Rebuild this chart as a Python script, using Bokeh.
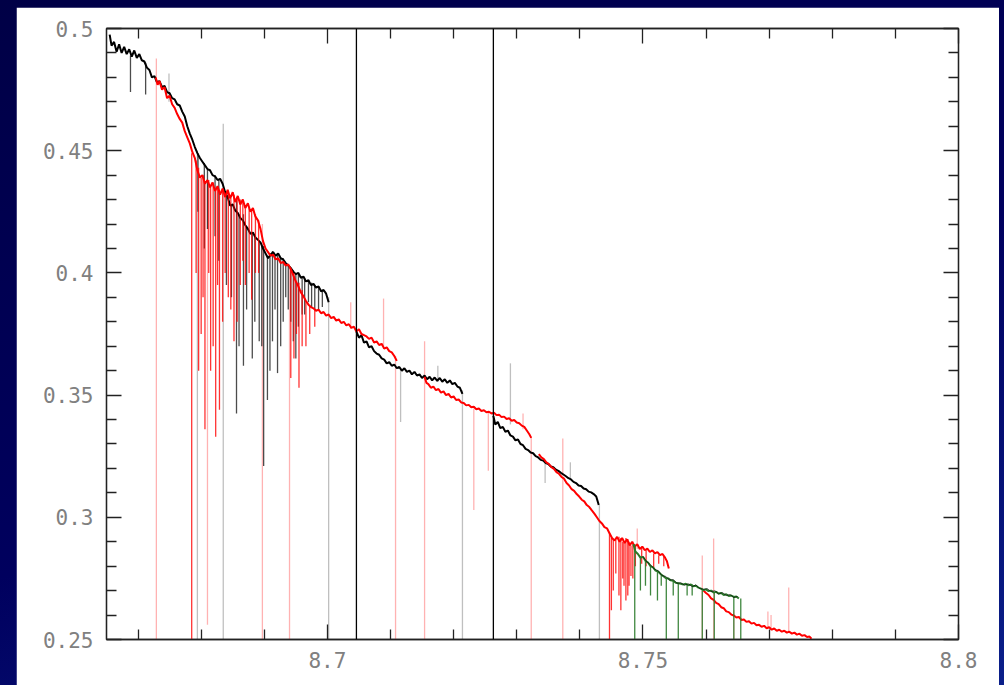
from bokeh.plotting import figure
from bokeh.models import (LinearAxis, FixedTicker, Span, Range1d, GlobalInlineStyleSheet)
from bokeh.embed import file_html
from bokeh.resources import INLINE

# ---------------- data ----------------
x_range = (8.665, 8.8)
y_range = (0.25, 0.5)
x_ticks = [8.7, 8.75, 8.8]
x_tick_labels = ["8.7", "8.75", "8.8"]
x_minor = [8.67, 8.68, 8.69, 8.71, 8.72, 8.73, 8.74, 8.76, 8.77, 8.78, 8.79]
y_ticks = [0.25, 0.3, 0.35, 0.4, 0.45, 0.5]
y_tick_labels = ["0.25", "0.3", "0.35", "0.4", "0.45", "0.5"]
y_minor = [0.26, 0.27, 0.28, 0.29, 0.31, 0.32, 0.33, 0.34, 0.36, 0.37, 0.38, 0.39,
           0.41, 0.42, 0.43, 0.44, 0.46, 0.47, 0.48, 0.49]
marker_lines = [8.7046, 8.7263]

# black order, segment 1
b1_x = [8.6655, 8.6658, 8.6662, 8.6666, 8.6670, 8.6674, 8.6678, 8.6682, 8.6686, 8.6690,
        8.6694, 8.6698, 8.6702, 8.6706, 8.6710, 8.6714, 8.6718, 8.6722, 8.6726, 8.6730,
        8.6734, 8.6738, 8.6742, 8.6746, 8.6750, 8.6754, 8.6758, 8.6762, 8.6766, 8.6770,
        8.6774, 8.6778, 8.6782, 8.6786, 8.6790, 8.6794, 8.6798, 8.6802, 8.6806, 8.6810,
        8.6814, 8.6818, 8.6822, 8.6826, 8.6830, 8.6834, 8.6838, 8.6842, 8.6846, 8.6850,
        8.6854, 8.6858, 8.6862, 8.6866, 8.6870, 8.6874, 8.6878, 8.6882, 8.6886, 8.6890,
        8.6894, 8.6898, 8.6902, 8.6906, 8.6910, 8.6914, 8.6918, 8.6922, 8.6926, 8.6930,
        8.6934, 8.6938, 8.6942, 8.6946, 8.6950, 8.6954, 8.6958, 8.6962, 8.6966, 8.6970,
        8.6974, 8.6978, 8.6982, 8.6986, 8.6990, 8.6994, 8.6998, 8.7002]
b1_y = [0.4975, 0.4930, 0.4945, 0.4905, 0.4935, 0.4900, 0.4925, 0.4895, 0.4915, 0.4885,
        0.4910, 0.4880, 0.4895, 0.4870, 0.4865, 0.4840, 0.4830, 0.4800, 0.4805, 0.4780,
        0.4785, 0.4760, 0.4765, 0.4740, 0.4735, 0.4715, 0.4710, 0.4690, 0.4685, 0.4660,
        0.4640, 0.4600, 0.4570, 0.4545, 0.4515, 0.4490, 0.4470, 0.4455, 0.4440, 0.4425,
        0.4420, 0.4400, 0.4395, 0.4380, 0.4385, 0.4365, 0.4330, 0.4310, 0.4275, 0.4280,
        0.4255, 0.4245, 0.4225, 0.4215, 0.4195, 0.4180, 0.4160, 0.4165, 0.4145, 0.4135,
        0.4125, 0.4100, 0.4080, 0.4060, 0.4075, 0.4085, 0.4070, 0.4080, 0.4060, 0.4055,
        0.4040, 0.4030, 0.4020, 0.4005, 0.3995, 0.4000, 0.3980, 0.3985, 0.3965, 0.3970,
        0.3950, 0.3955, 0.3940, 0.3945, 0.3925, 0.3930, 0.3915, 0.3880]

# black order, segment 2
b2_x = [8.7046, 8.7050, 8.7054, 8.7058, 8.7062, 8.7066, 8.7070, 8.7074, 8.7078, 8.7082,
        8.7086, 8.7090, 8.7094, 8.7098, 8.7102, 8.7106, 8.7110, 8.7114, 8.7118, 8.7122,
        8.7126, 8.7130, 8.7134, 8.7138, 8.7142, 8.7146, 8.7150, 8.7154, 8.7158, 8.7162,
        8.7166, 8.7170, 8.7174, 8.7178, 8.7182, 8.7186, 8.7190, 8.7194, 8.7198, 8.7202,
        8.7206, 8.7210, 8.7214]
b2_y = [0.3760, 0.3735, 0.3745, 0.3715, 0.3720, 0.3695, 0.3700, 0.3680, 0.3670, 0.3665,
        0.3650, 0.3645, 0.3630, 0.3635, 0.3620, 0.3625, 0.3610, 0.3615, 0.3600, 0.3610,
        0.3595, 0.3600, 0.3585, 0.3595, 0.3580, 0.3585, 0.3570, 0.3580, 0.3565, 0.3575,
        0.3560, 0.3572, 0.3558, 0.3570, 0.3555, 0.3565, 0.3550, 0.3560, 0.3545, 0.3550,
        0.3535, 0.3530, 0.3505]

# black order, segment 3
b3_x = [8.7263, 8.7266, 8.7270, 8.7274, 8.7278, 8.7282, 8.7286, 8.7290, 8.7294, 8.7298,
        8.7302, 8.7306, 8.7310, 8.7314, 8.7318, 8.7322, 8.7326, 8.7330, 8.7334, 8.7338,
        8.7342, 8.7346, 8.7350, 8.7354, 8.7358, 8.7362, 8.7366, 8.7370, 8.7374, 8.7378,
        8.7382, 8.7386, 8.7390, 8.7394, 8.7398, 8.7402, 8.7406, 8.7410, 8.7414, 8.7418,
        8.7422, 8.7426, 8.7430]
b3_y = [0.3415, 0.3380, 0.3390, 0.3365, 0.3370, 0.3350, 0.3355, 0.3335, 0.3330, 0.3315,
        0.3318, 0.3300, 0.3295, 0.3280, 0.3275, 0.3265, 0.3262, 0.3250, 0.3245, 0.3235,
        0.3232, 0.3222, 0.3218, 0.3208, 0.3205, 0.3195, 0.3190, 0.3182, 0.3175, 0.3168,
        0.3160, 0.3155, 0.3145, 0.3140, 0.3130, 0.3128, 0.3118, 0.3115, 0.3105, 0.3102,
        0.3095, 0.3085, 0.3050]

# black points over the green order
b4_x = [8.7500, 8.7506, 8.7512, 8.7518, 8.7524, 8.7530, 8.7536, 8.7542, 8.7548, 8.7554,
        8.7560, 8.7566, 8.7572, 8.7578, 8.7584, 8.7590, 8.7596, 8.7602, 8.7608, 8.7614,
        8.7620, 8.7626, 8.7632, 8.7638, 8.7644, 8.7650]
b4_y = [0.2840, 0.2818, 0.2806, 0.2788, 0.2782, 0.2762, 0.2758, 0.2744, 0.2745, 0.2730,
        0.2732, 0.2722, 0.2728, 0.2716, 0.2724, 0.2708, 0.2706, 0.2708, 0.2696, 0.2700,
        0.2686, 0.2692, 0.2680, 0.2684, 0.2672, 0.2676]

# red order, segment 1
r1_x = [8.6728, 8.6731, 8.6734, 8.6738, 8.6742, 8.6746, 8.6750, 8.6754, 8.6758, 8.6762,
        8.6766, 8.6770, 8.6774, 8.6778, 8.6782, 8.6786, 8.6790, 8.6794, 8.6798, 8.6802,
        8.6806, 8.6810, 8.6814, 8.6818, 8.6822, 8.6826, 8.6830, 8.6834, 8.6838, 8.6842,
        8.6846, 8.6850, 8.6854, 8.6858, 8.6862, 8.6866, 8.6870, 8.6874, 8.6878, 8.6882,
        8.6886, 8.6890, 8.6894, 8.6898, 8.6902, 8.6906, 8.6910, 8.6914, 8.6918, 8.6922,
        8.6926, 8.6930, 8.6934, 8.6938, 8.6942, 8.6946, 8.6950, 8.6954, 8.6958, 8.6962,
        8.6966, 8.6970, 8.6974, 8.6978, 8.6982, 8.6986, 8.6990, 8.6994, 8.6998, 8.7002,
        8.7006, 8.7010, 8.7014, 8.7018, 8.7022, 8.7026, 8.7030, 8.7034, 8.7038, 8.7042,
        8.7046, 8.7050, 8.7054, 8.7058, 8.7062, 8.7066, 8.7070, 8.7074, 8.7078, 8.7082,
        8.7086, 8.7090, 8.7094, 8.7098, 8.7102, 8.7106, 8.7110]
r1_y = [0.4800, 0.4770, 0.4785, 0.4750, 0.4760, 0.4715, 0.4725, 0.4690, 0.4675, 0.4650,
        0.4630, 0.4615, 0.4580, 0.4555, 0.4530, 0.4495, 0.4470, 0.4420, 0.4390, 0.4400,
        0.4365, 0.4380, 0.4350, 0.4370, 0.4335, 0.4355, 0.4320, 0.4345, 0.4310, 0.4340,
        0.4305, 0.4330, 0.4290, 0.4315, 0.4280, 0.4300, 0.4265, 0.4285, 0.4250, 0.4265,
        0.4230, 0.4215, 0.4180, 0.4130, 0.4100, 0.4085, 0.4070, 0.4075, 0.4055, 0.4060,
        0.4040, 0.4045, 0.4030, 0.4035, 0.4015, 0.3990, 0.3965, 0.3945, 0.3920, 0.3905,
        0.3885, 0.3870, 0.3860, 0.3855, 0.3845, 0.3850, 0.3835, 0.3840, 0.3825, 0.3830,
        0.3815, 0.3820, 0.3805, 0.3810, 0.3795, 0.3800, 0.3785, 0.3790, 0.3775, 0.3780,
        0.3760, 0.3770, 0.3750, 0.3745, 0.3740, 0.3730, 0.3735, 0.3715, 0.3720, 0.3705,
        0.3710, 0.3690, 0.3695, 0.3680, 0.3675, 0.3660, 0.3640]

# red order, segment 2
r2_x = [8.7154, 8.7157, 8.7160, 8.7164, 8.7168, 8.7172, 8.7176, 8.7180, 8.7184, 8.7188,
        8.7192, 8.7196, 8.7200, 8.7204, 8.7208, 8.7212, 8.7216, 8.7220, 8.7224, 8.7228,
        8.7232, 8.7236, 8.7240, 8.7244, 8.7248, 8.7252, 8.7256, 8.7260, 8.7264, 8.7268,
        8.7272, 8.7276, 8.7280, 8.7284, 8.7288, 8.7292, 8.7296, 8.7300, 8.7304, 8.7308,
        8.7312, 8.7316, 8.7320, 8.7323]
r2_y = [0.3575, 0.3550, 0.3545, 0.3530, 0.3535, 0.3520, 0.3525, 0.3510, 0.3515, 0.3500,
        0.3505, 0.3490, 0.3495, 0.3480, 0.3482, 0.3470, 0.3468, 0.3458, 0.3460, 0.3450,
        0.3452, 0.3442, 0.3445, 0.3435, 0.3438, 0.3430, 0.3432, 0.3425, 0.3428, 0.3418,
        0.3420, 0.3410, 0.3412, 0.3402, 0.3405, 0.3395, 0.3398, 0.3388, 0.3385, 0.3375,
        0.3370, 0.3355, 0.3340, 0.3325]

# red order, segment 3
r3_x = [8.7335, 8.7339, 8.7343, 8.7347, 8.7351, 8.7355, 8.7359, 8.7363, 8.7367, 8.7371,
        8.7375, 8.7379, 8.7383, 8.7387, 8.7391, 8.7395, 8.7399, 8.7403, 8.7407, 8.7411,
        8.7415, 8.7419, 8.7423, 8.7427, 8.7431, 8.7435, 8.7439, 8.7443, 8.7447, 8.7451,
        8.7455, 8.7459, 8.7463, 8.7467, 8.7471, 8.7475, 8.7479, 8.7483, 8.7487, 8.7491,
        8.7495, 8.7499, 8.7503, 8.7507, 8.7511, 8.7515, 8.7519, 8.7523, 8.7527, 8.7531,
        8.7535, 8.7538, 8.7541]
r3_y = [0.3258, 0.3245, 0.3238, 0.3225, 0.3218, 0.3205, 0.3198, 0.3185, 0.3178, 0.3165,
        0.3158, 0.3140, 0.3130, 0.3115, 0.3108, 0.3095, 0.3085, 0.3072, 0.3065, 0.3050,
        0.3042, 0.3028, 0.3015, 0.3000, 0.2985, 0.2975, 0.2960, 0.2955, 0.2935, 0.2915,
        0.2905, 0.2920, 0.2900, 0.2915, 0.2895, 0.2910, 0.2885, 0.2900, 0.2880, 0.2890,
        0.2870, 0.2880, 0.2865, 0.2872, 0.2858, 0.2865, 0.2852, 0.2858, 0.2845, 0.2850,
        0.2835, 0.2820, 0.2790]

# red order, segment 4
r4_x = [8.7596, 8.7600, 8.7604, 8.7608, 8.7612, 8.7616, 8.7620, 8.7624, 8.7628, 8.7632,
        8.7636, 8.7640, 8.7644, 8.7648, 8.7652, 8.7656, 8.7660, 8.7664, 8.7668, 8.7672,
        8.7676, 8.7680, 8.7684, 8.7688, 8.7692, 8.7696, 8.7700, 8.7704, 8.7708, 8.7712,
        8.7716, 8.7720, 8.7724, 8.7728, 8.7732, 8.7736, 8.7740, 8.7744, 8.7748, 8.7752,
        8.7756, 8.7760, 8.7764, 8.7767]
r4_y = [0.2700, 0.2690, 0.2682, 0.2668, 0.2662, 0.2650, 0.2645, 0.2632, 0.2628, 0.2615,
        0.2612, 0.2602, 0.2598, 0.2590, 0.2592, 0.2580, 0.2582, 0.2572, 0.2575, 0.2565,
        0.2568, 0.2558, 0.2560, 0.2552, 0.2556, 0.2546, 0.2550, 0.2540, 0.2545, 0.2536,
        0.2540, 0.2532, 0.2536, 0.2528, 0.2532, 0.2524, 0.2528, 0.2520, 0.2524, 0.2515,
        0.2518, 0.2510, 0.2512, 0.2503]

# green order
g_x = [8.7485, 8.7488, 8.7492, 8.7496, 8.7500, 8.7504, 8.7508, 8.7512, 8.7516, 8.7520,
       8.7524, 8.7528, 8.7532, 8.7536, 8.7540, 8.7544, 8.7548, 8.7552, 8.7556, 8.7560,
       8.7564, 8.7568, 8.7572, 8.7576, 8.7580, 8.7584, 8.7588, 8.7592, 8.7596, 8.7600,
       8.7604, 8.7608, 8.7612, 8.7616, 8.7620, 8.7624, 8.7628, 8.7632, 8.7636, 8.7640,
       8.7644, 8.7648, 8.7652]
g_y = [0.2890, 0.2860, 0.2850, 0.2835, 0.2838, 0.2822, 0.2815, 0.2800, 0.2795, 0.2782,
       0.2778, 0.2768, 0.2760, 0.2752, 0.2750, 0.2742, 0.2740, 0.2732, 0.2730, 0.2728,
       0.2725, 0.2728, 0.2722, 0.2725, 0.2718, 0.2720, 0.2712, 0.2708, 0.2702, 0.2705,
       0.2698, 0.2700, 0.2692, 0.2695, 0.2688, 0.2690, 0.2682, 0.2685, 0.2678, 0.2680,
       0.2674, 0.2676, 0.2668]

# absorption dips (x, top, bottom)
black_dip_x = [8.6688, 8.6712, 8.6805, 8.6822, 8.6856, 8.6867, 8.6881, 8.6892, 8.6899, 8.6905,
               8.6913, 8.6921, 8.6930, 8.6938, 8.6946, 8.6954, 8.6964, 8.6975, 8.6986,
               8.6795, 8.6810, 8.6828, 8.6840, 8.6848, 8.6860, 8.6872, 8.6885, 8.6896, 8.6909,
               8.6917, 8.6926, 8.6934, 8.6942, 8.6950, 8.6960, 8.6970, 8.6980, 8.6992]
black_dip_top = [0.4890, 0.4860, 0.4450, 0.4400, 0.4300, 0.4240, 0.4160, 0.4130, 0.4110, 0.4070,
                 0.4090, 0.4080, 0.4060, 0.4030, 0.4010, 0.4000, 0.3980, 0.3960, 0.3940,
                 0.4490, 0.4425, 0.4380, 0.4330, 0.4275, 0.4240, 0.4190, 0.4145, 0.4110, 0.4075,
                 0.4070, 0.4060, 0.4040, 0.4020, 0.3995, 0.3980, 0.3970, 0.3950, 0.3925]
black_dip_bot = [0.4740, 0.4730, 0.4100, 0.4150, 0.3425, 0.3620, 0.3650, 0.3720, 0.3210, 0.3480,
                 0.3720, 0.3590, 0.3800, 0.3850, 0.3720, 0.3780, 0.3830, 0.3860, 0.3850,
                 0.4250, 0.4180, 0.4050, 0.3950, 0.3900, 0.3700, 0.3850, 0.3800, 0.3700, 0.3600,
                 0.3850, 0.3700, 0.3900, 0.3800, 0.3650, 0.3830, 0.3880, 0.3850, 0.3860]

red_dip_x = [8.6785, 8.6800, 8.6806, 8.6815, 8.6823, 8.6829, 8.6843, 8.6852, 8.6857, 8.6862,
             8.6876, 8.6880, 8.6886, 8.6942, 8.6947, 8.6955, 8.6960, 8.6972, 8.6980,
             8.6792, 8.6796, 8.6803, 8.6812, 8.6819, 8.6826, 8.6834, 8.6838, 8.6847, 8.6866,
             8.6870, 8.6891, 8.6951, 8.6966,
             8.7447, 8.7457, 8.7462, 8.7468, 8.7473, 8.7478, 8.7484,
             8.7450, 8.7453, 8.7465, 8.7470, 8.7476, 8.7481, 8.7488, 8.7498, 8.7505, 8.7517,
             8.7525, 8.7533]
red_dip_top = [0.4490, 0.4390, 0.4370, 0.4360, 0.4340, 0.4340, 0.4330, 0.4320, 0.4310, 0.4300,
               0.4270, 0.4260, 0.4240, 0.4020, 0.4000, 0.3960, 0.3930, 0.3870, 0.3850,
               0.4460, 0.4430, 0.4400, 0.4380, 0.4370, 0.4355, 0.4345, 0.4310, 0.4305, 0.4300,
               0.4265, 0.4215, 0.3965, 0.3885,
               0.2935, 0.2910, 0.2920, 0.2900, 0.2915, 0.2900, 0.2890,
               0.2915, 0.2910, 0.2915, 0.2895, 0.2910, 0.2885, 0.2880, 0.2880, 0.2865, 0.2852,
               0.2845, 0.2840]
red_dip_bot = [0.2500, 0.3750, 0.3360, 0.3600, 0.3330, 0.3440, 0.3900, 0.3720, 0.3800, 0.3950,
               0.4000, 0.3890, 0.4000, 0.3570, 0.3650, 0.3530, 0.3700, 0.3750, 0.3780,
               0.4000, 0.3600, 0.3900, 0.4000, 0.3700, 0.3950, 0.3800, 0.4000, 0.3850, 0.4050,
               0.3950, 0.4000, 0.3750, 0.3700,
               0.2500, 0.2770, 0.2680, 0.2750, 0.2660, 0.2720, 0.2750,
               0.2620, 0.2700, 0.2620, 0.2720, 0.2680, 0.2760, 0.2800, 0.2810, 0.2800, 0.2790,
               0.2810, 0.2800]

green_dip_x = [8.7487, 8.7537, 8.7556, 8.7594, 8.7613, 8.7644, 8.7655,
               8.7496, 8.7504, 8.7512, 8.7523, 8.7529, 8.7548, 8.7570, 8.7578]
green_dip_top = [0.2890, 0.2752, 0.2730, 0.2702, 0.2692, 0.2674, 0.2668,
                 0.2835, 0.2822, 0.2800, 0.2778, 0.2768, 0.2740, 0.2728, 0.2725]
green_dip_bot = [0.2500, 0.2500, 0.2500, 0.2500, 0.2500, 0.2500, 0.2500,
                 0.2700, 0.2720, 0.2680, 0.2660, 0.2720, 0.2680, 0.2680, 0.2680]

# faint off-scale spikes (x, top, bottom)
red_spike_x = [8.6729, 8.6810, 8.6897, 8.6940, 8.7108, 8.7154, 8.7037, 8.7089, 8.7232, 8.7255,
               8.7323, 8.7373, 8.7310, 8.7491, 8.7594, 8.7612, 8.7644, 8.7731, 8.7698, 8.7703]
red_spike_top = [0.4877, 0.4370, 0.4200, 0.4020, 0.3660, 0.3720, 0.3880, 0.3895, 0.3445, 0.3435,
                 0.3330, 0.3322, 0.3425, 0.2954, 0.2844, 0.2913, 0.2620, 0.2713, 0.2615, 0.2600]
red_spike_bot = [0.2500, 0.2560, 0.2500, 0.2500, 0.2500, 0.2500, 0.3770, 0.3690, 0.3030, 0.3190,
                 0.2500, 0.2500, 0.3360, 0.2870, 0.2500, 0.2500, 0.2500, 0.2530, 0.2545, 0.2545]

gray_spike_x = [8.6794, 8.6835, 8.7002, 8.7214, 8.7431, 8.6749, 8.7290, 8.7116, 8.7175,
                8.7385, 8.7345]
gray_spike_top = [0.4500, 0.4610, 0.3900, 0.3520, 0.3050, 0.4816, 0.3630, 0.3610, 0.3620,
                  0.3225, 0.3225]
gray_spike_bot = [0.2500, 0.2500, 0.2500, 0.2500, 0.2500, 0.4700, 0.3380, 0.3390, 0.3555,
                  0.3160, 0.3140]

# ---------------- figure ----------------
p = figure(width=983, height=678, output_backend="svg", toolbar_location=None,
           x_range=Range1d(*x_range), y_range=Range1d(*y_range),
           x_axis_location=None, y_axis_location=None,
           min_border_left=90, min_border_right=41, min_border_top=21, min_border_bottom=46,
           background_fill_color="white", border_fill_color="white",
           outline_line_color="#222222", outline_line_width=1.3)
p.margin = (7, 0, 0, 16)
p.grid.visible = False
p.stylesheets = [GlobalInlineStyleSheet(css=
    "html, body { background: linear-gradient(160deg, #000046 0%, #00005e 55%, #0a1f8a 100%); }")]

xt = FixedTicker(ticks=x_ticks, minor_ticks=x_minor)
yt = FixedTicker(ticks=y_ticks, minor_ticks=y_minor)
x_over = dict(zip(x_ticks, x_tick_labels))
y_over = dict(zip(y_ticks, y_tick_labels))

def style(ax, show_labels):
    ax.major_tick_in = 15
    ax.major_tick_out = 0
    ax.minor_tick_in = 10
    ax.minor_tick_out = 0
    ax.axis_line_color = "#222222"
    ax.axis_line_width = 1.3
    ax.major_tick_line_color = "#222222"
    ax.minor_tick_line_color = "#222222"
    ax.major_tick_line_width = 1.3
    ax.minor_tick_line_width = 1.3
    ax.major_label_text_font = "DejaVu Sans Mono"
    ax.major_label_text_font_size = "21px"
    ax.major_label_text_color = "#808080"
    if not show_labels:
        ax.major_label_text_alpha = 0.0
        ax.major_label_text_font_size = "1px"
        ax.major_label_standoff = 0

bottom = LinearAxis(ticker=xt, major_label_overrides=x_over, major_label_standoff=12)
left = LinearAxis(ticker=yt, major_label_overrides=y_over, major_label_standoff=13)
top = LinearAxis(ticker=xt, major_label_overrides=x_over)
right = LinearAxis(ticker=yt, major_label_overrides=y_over)
style(bottom, True)
style(left, True)
style(top, False)
style(right, False)
p.add_layout(bottom, "below")
p.add_layout(left, "left")
p.add_layout(top, "above")
p.add_layout(right, "right")

# faint spikes (background)
p.segment(x0=red_spike_x, y0=red_spike_top, x1=red_spike_x, y1=red_spike_bot,
          line_color="#ff0000", line_alpha=0.3, line_width=1.3)
p.segment(x0=gray_spike_x, y0=gray_spike_top, x1=gray_spike_x, y1=gray_spike_bot,
          line_color="#000000", line_alpha=0.25, line_width=1.3)

# black order
for xs, ys in [(b1_x, b1_y), (b2_x, b2_y), (b3_x, b3_y)]:
    p.line(xs, ys, line_color="black", line_width=2.0)
p.segment(x0=black_dip_x, y0=black_dip_top, x1=black_dip_x, y1=black_dip_bot,
          line_color="black", line_alpha=0.7, line_width=1.3)

# red order
for xs, ys in [(r1_x, r1_y), (r2_x, r2_y), (r3_x, r3_y), (r4_x, r4_y)]:
    p.line(xs, ys, line_color="#ff0000", line_width=2.0)
p.segment(x0=red_dip_x, y0=red_dip_top, x1=red_dip_x, y1=red_dip_bot,
          line_color="#ff0000", line_alpha=0.8, line_width=1.3)

# green order
p.line(g_x, g_y, line_color="#2a7a2a", line_width=2.0)
p.segment(x0=green_dip_x, y0=green_dip_top, x1=green_dip_x, y1=green_dip_bot,
          line_color="#2a7a2a", line_alpha=0.9, line_width=1.3)
p.line(b4_x, b4_y, line_color="black", line_alpha=0.6, line_width=1.0)

for loc in marker_lines:
    p.add_layout(Span(location=loc, dimension="height", line_color="black", line_width=1.3))

open("out.html", "w").write(file_html(p, INLINE))
